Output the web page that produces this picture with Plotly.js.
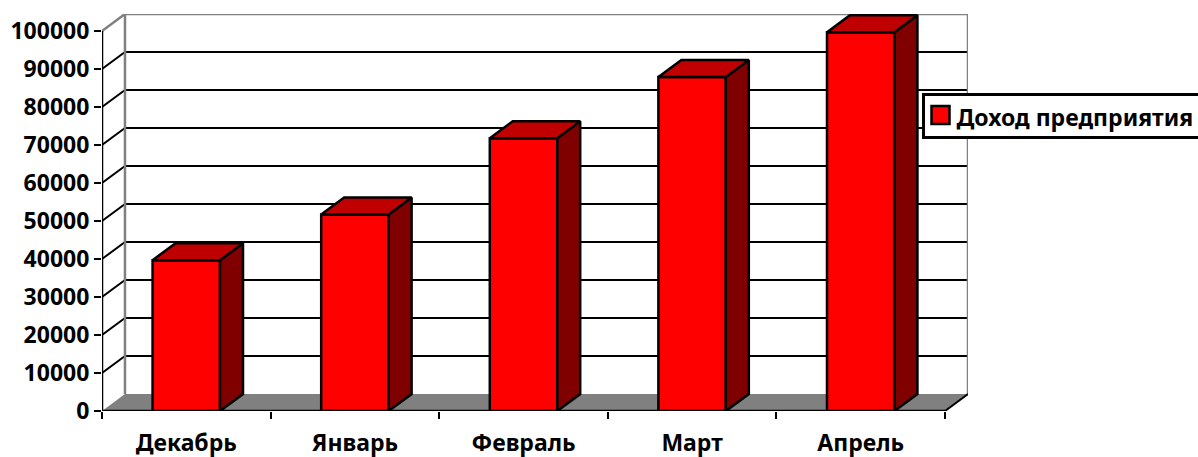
<!DOCTYPE html>
<html lang="ru">
<head>
<meta charset="utf-8">
<script src="https://cdn.plot.ly/plotly-3.0.1.min.js"></script>
<style>html,body{margin:0;padding:0;background:#fff}#chart{width:1198px;height:457px}</style>
</head>
<body>
<div id="chart"></div>
<script>
// Monthly income, drawn as an oblique 3D column chart
const months = ['Декабрь', 'Январь', 'Февраль', 'Март', 'Апрель'];
const income = [39700, 51700, 71800, 87900, 99700];
const seriesName = 'Доход предприятия';
const yTicks = [0, 10000, 20000, 30000, 40000, 50000, 60000, 70000, 80000, 90000, 100000];

// Depth of the oblique projection, in axis units
const depthX = 0.1363;
const depthY = 4474;
const barWidth = 0.4;
const n = months.length;
const yMax = 100000;

const centers = months.map((_, i) => i + 0.5);
const edges = Array.from({length: n + 1}, (_, i) => i);

const poly = pts => 'M' + pts.map(p => p[0] + ',' + p[1]).join('L') + 'Z';
const seg = (x0, y0, x1, y1, color, width) => ({
  type: 'line', xref: 'x', yref: 'y', layer: 'below', x0, y0, x1, y1,
  line: {color, width}
});

const GREY = '#808080';
const shapes = [
  // Floor of the chart box
  {type: 'path', xref: 'x', yref: 'y', layer: 'below',
   path: poly([[0, 0], [n, 0], [n + depthX, depthY], [depthX, depthY]]),
   fillcolor: GREY, line: {width: 0}}
];
// Grid lines across the back wall and along the left side wall
yTicks.filter(v => v > 0 && v < yMax).forEach(v => {
  shapes.push(seg(0, v, depthX, v + depthY, '#000', 2));
  shapes.push(seg(depthX, v + depthY, n + depthX, v + depthY, '#000', 2));
});
// Back wall outline
shapes.push(seg(0, yMax, depthX, yMax + depthY, GREY, 2.5));
shapes.push(seg(depthX, yMax + depthY, n + depthX, yMax + depthY, GREY, 2.5));
shapes.push(seg(depthX, depthY, depthX, yMax + depthY, GREY, 2.5));
shapes.push(seg(n + depthX, depthY, n + depthX, yMax + depthY, GREY, 2.5));
// Axis lines
shapes.push(seg(0, 0, 0, yMax, '#000', 2.5));
shapes.push(seg(0, 0, n, 0, '#000', 2.5));
shapes.push(seg(n, 0, n + depthX, depthY, '#000', 2));

// Closed outlines for the side and top faces of the columns
function faceTrace(makeCorners, color) {
  const xs = [], ys = [];
  income.forEach((v, i) => {
    makeCorners(centers[i] + barWidth / 2, centers[i] - barWidth / 2, v).forEach(c => {
      xs.push(c[0]); ys.push(c[1]);
    });
    xs.push(null); ys.push(null);
  });
  return {
    type: 'scatter', mode: 'lines', x: xs, y: ys, fill: 'toself', fillcolor: color,
    line: {color: '#000', width: 2.5}, showlegend: false, hoverinfo: 'skip', cliponaxis: false
  };
}

const traces = [
  {
    type: 'bar', name: seriesName, x: centers, y: income, width: barWidth,
    marker: {color: '#FF0000', line: {color: '#000', width: 2.5}},
    showlegend: true, hovertemplate: '%{text}: %{y}<extra></extra>', text: months, textposition: 'none'
  },
  faceTrace((r, l, v) => [[r, 0], [r + depthX, depthY], [r + depthX, v + depthY], [r, v], [r, 0]], '#800000'),
  faceTrace((r, l, v) => [[l, v], [l + depthX, v + depthY], [r + depthX, v + depthY], [r, v], [l, v]], '#C00000'),
  // Tick marks on the category boundaries
  {type: 'scatter', mode: 'markers', x: edges, y: edges.map(() => 0), xaxis: 'x2',
   marker: {size: 0.1, color: 'rgba(0,0,0,0)'}, showlegend: false, hoverinfo: 'skip'}
];

const labelFont = {family: '"Noto Sans", "Open Sans", sans-serif', size: 23, color: '#000', weight: 700};

const layout = {
  width: 1198, height: 457,
  margin: {l: 102, r: 230, t: 14, b: 46, pad: 0, autoexpand: false},
  paper_bgcolor: '#fff', plot_bgcolor: 'rgba(0,0,0,0)',
  showlegend: true,
  legend: {
    xref: 'container', yref: 'container', x: 922 / 1198, y: 1 - 93 / 457,
    xanchor: 'left', yanchor: 'top', bgcolor: '#fff', bordercolor: '#000', borderwidth: 2.5,
    indentation: -8, font: labelFont, itemclick: false, itemdoubleclick: false
  },
  bargap: 0.6,
  xaxis: {
    range: [0, n + depthX], tickvals: centers, ticktext: months, ticks: '', showgrid: false,
    showline: false, zeroline: false, tickfont: labelFont, ticklabelstandoff: 16, fixedrange: true
  },
  xaxis2: {
    range: [0, n + depthX], overlaying: 'x', anchor: 'y', side: 'bottom', tickvals: edges,
    showticklabels: false, ticks: 'outside', ticklen: 7, tickwidth: 2, tickcolor: '#000',
    showgrid: false, showline: false, zeroline: false, fixedrange: true
  },
  yaxis: {
    range: [0, yMax + depthY], tickvals: yTicks, ticks: 'outside', ticklen: 7, tickwidth: 2,
    tickcolor: '#000', showgrid: false, showline: false, zeroline: false, tickfont: labelFont,
    tickformat: 'd', fixedrange: true
  },
  shapes
};

Plotly.newPlot('chart', traces, layout, {displayModeBar: false, responsive: false}).then(gd => {
  // Larger legend swatch and a tighter legend frame than the defaults
  gd.querySelectorAll('.legend .legendpoints path').forEach(p => p.setAttribute('d', 'M13,7H-5V-11H13Z'));
  gd.querySelectorAll('.legend rect.bg').forEach(r => r.setAttribute('height', '43'));
});
</script>
</body>
</html>
